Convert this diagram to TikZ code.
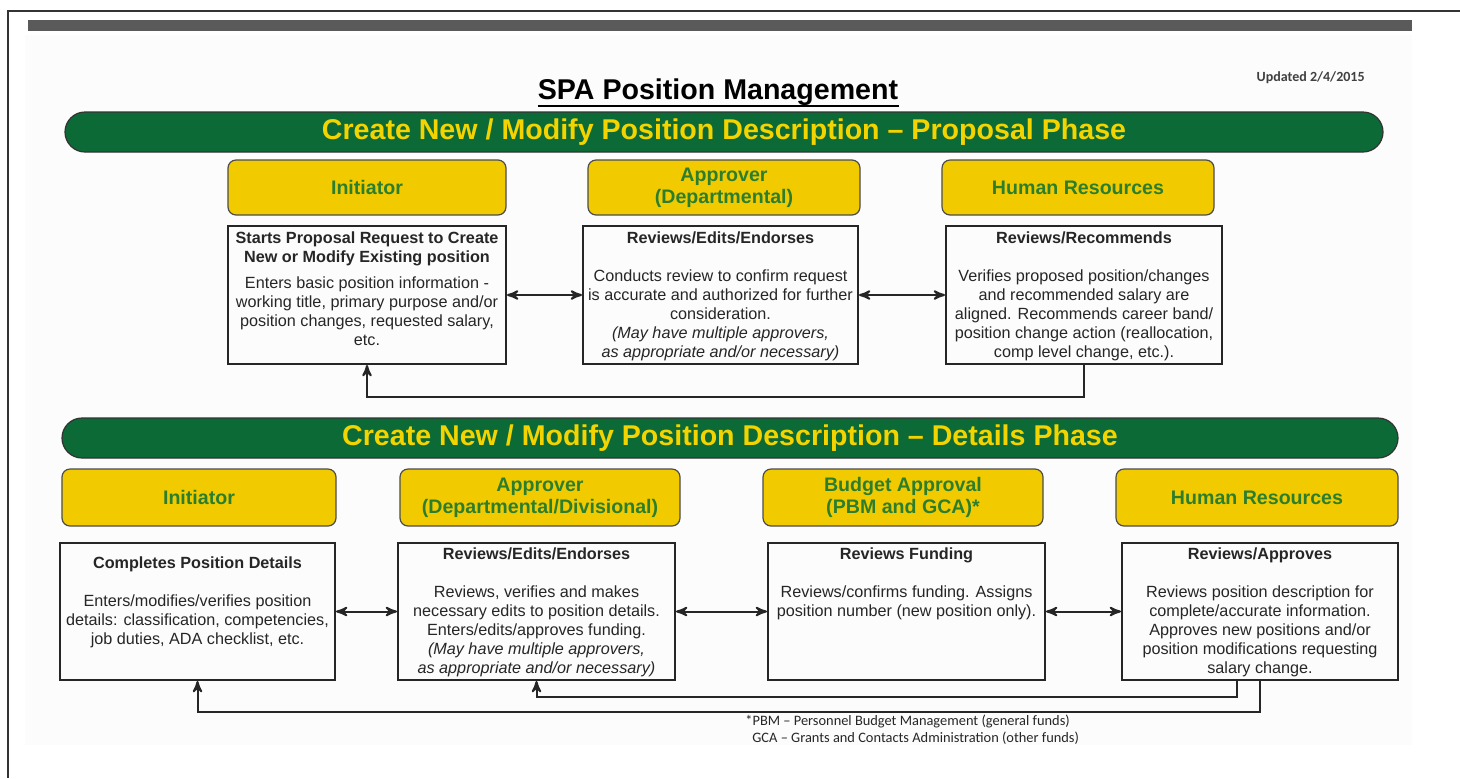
\documentclass[tikz,border=0pt]{standalone}
\usepackage{fontspec}
\setmainfont{Liberation Sans}
\newfontfamily\notefont{Carlito}
\usetikzlibrary{arrows, fit}

\definecolor{phasegreen}{HTML}{0B6A36}
\definecolor{phaseyellow}{HTML}{F3D400}
\definecolor{rolegold}{HTML}{F1CB00}
\definecolor{rolegreen}{HTML}{2C7E2C}
\definecolor{bargray}{HTML}{5A5A5A}

\tikzset{
  phase/.style={draw=black!80, line width=0.6pt, fill=phasegreen, rounded corners=10pt, inner sep=0pt},
  phasetext/.style={inner sep=0pt, text=phaseyellow, font=\fontsize{14.3}{16}\selectfont\bfseries},
  role/.style={draw=black!70, line width=0.6pt, fill=rolegold, rounded corners=4pt, inner sep=0pt},
  roletext/.style={inner sep=0pt, align=center, text=rolegreen, font=\fontsize{9.8}{11}\selectfont\bfseries},
  task/.style={draw=black!85, line width=1pt, inner sep=0pt},
  tasktext/.style={anchor=north, align=center, inner sep=0pt, text=black!85,
    font=\fontsize{8.1}{9.5}\selectfont},
  flow/.style={line width=1pt, draw=black!85, >=stealth'}
}

\begin{document}
\begin{tikzpicture}[x=0.5pt, y=-0.5pt]
\useasboundingbox (0,0) rectangle (1460,778);

% page frame and top bar
\fill[black!1] (25,35) rectangle (1412,745);
\draw[black!80, line width=0.75pt] (1460,11) -- (8,11) -- (8,778);
\fill[bargray] (28,20) rectangle (1412,31);

% title
\node[anchor=base, inner sep=0pt, font=\fontsize{14.3}{17}\selectfont\bfseries] (title) at (718,99) {SPA Position Management};
\draw[line width=1pt] ([yshift=-0.5pt]title.south west) -- ([yshift=-0.5pt]title.south east);
\node[anchor=east, inner sep=0pt, text=black!75, font=\notefont\fontsize{7}{8}\selectfont\bfseries] (upd) at (1365,78) {Updated 2/4/2015};

%% proposal phase
\node[phase, fit={(65,112) (1383,152)}] (pp) {};
\node[phasetext] (ppt) at (pp) {Create New / Modify Position Description – Proposal Phase};

\node[role, fit={(228,160) (506,215)}] (ph1) {};
\node[role, fit={(588,160) (860,215)}] (ph2) {};
\node[role, fit={(942,160) (1214,215)}] (ph3) {};
\node[roletext] (pr1) at (ph1) {Initiator};
\node[roletext] (pr2) at (ph2) {Approver\\(Departmental)};
\node[roletext] (pr3) at (ph3) {Human Resources};

\node[task, fit={(228,226) (506,364)}] (pb1) {};
\node[task, fit={(583,226) (858,364)}] (pb2) {};
\node[task, fit={(946,226) (1222,364)}] (pb3) {};

\node[tasktext] (pt1) at ([yshift=-3pt]pb1.north) {\textbf{Starts Proposal Request to Create}\\\textbf{New or Modify Existing position}\\[3.5pt]
  Enters basic position information -\\working title, primary purpose and/or\\position changes, requested salary,\\etc.};
\node[tasktext] (pt2) at ([yshift=-3pt]pb2.north) {\textbf{Reviews/Edits/Endorses}\\[9.5pt]
  Conducts review to confirm request\\is accurate and authorized for further\\consideration.\\
  \textit{(May have multiple approvers,}\\\textit{as appropriate and/or necessary)}};
\node[tasktext] (pt3) at ([yshift=-3pt]pb3.north) {\textbf{Reviews/Recommends}\\[9.5pt]
  Verifies proposed position/changes\\and recommended salary are\\aligned. Recommends career band/\\position change action (reallocation,\\comp level change, etc.).};

\draw[flow, <->] (pb1) -- (pb2);
\draw[flow, <->] (pb2) -- (pb3);
\coordinate (back1) at (1084,397);
\draw[flow, ->] (pb3.south) -- (back1) -| (pb1.south);

%% details phase
\node[phase, fit={(62,418) (1398,458)}] (dp) {};
\node[phasetext] (dpt) at (dp) {Create New / Modify Position Description – Details Phase};

\node[role, fit={(62,469) (336,526)}] (dh1) {};
\node[role, fit={(400,469) (680,526)}] (dh2) {};
\node[role, fit={(763,469) (1043,526)}] (dh3) {};
\node[role, fit={(1116,469) (1398,526)}] (dh4) {};
\node[roletext] (dr1) at (dh1) {Initiator};
\node[roletext] (dr2) at (dh2) {Approver\\(Departmental/Divisional)};
\node[roletext] (dr3) at (dh3) {Budget Approval\\(PBM and GCA)*};
\node[roletext] (dr4) at (dh4) {Human Resources};

\node[task, fit={(60,543) (335,680)}] (db1) {};
\node[task, fit={(398,543) (675,680)}] (db2) {};
\node[task, fit={(768,543) (1045,680)}] (db3) {};
\node[task, fit={(1122,543) (1398,680)}] (db4) {};

\node[tasktext] (dt1) at ([yshift=-7pt]db1.north) {\textbf{Completes Position Details}\\[9.5pt]
  Enters/modifies/verifies position\\details: classification, competencies,\\job duties, ADA checklist, etc.};
\node[tasktext] (dt2) at ([yshift=-2.5pt]db2.north) {\textbf{Reviews/Edits/Endorses}\\[9.5pt]
  Reviews, verifies and makes\\necessary edits to position details.\\Enters/edits/approves funding.\\
  \textit{(May have multiple approvers,}\\\textit{as appropriate and/or necessary)}};
\node[tasktext] (dt3) at ([yshift=-2.5pt]db3.north) {\textbf{Reviews Funding}\\[9.5pt]
  Reviews/confirms funding. Assigns\\position number (new position only).};
\node[tasktext] (dt4) at ([yshift=-2.5pt]db4.north) {\textbf{Reviews/Approves}\\[9.5pt]
  Reviews position description for\\complete/accurate information.\\Approves new positions and/or\\position modifications requesting\\salary change.};

\draw[flow, <->] (db1) -- (db2);
\draw[flow, <->] (db2) -- (db3);
\draw[flow, <->] (db3) -- (db4);
\coordinate (back2) at (1237,697);
\coordinate (back3) at (1260,712);
\draw[flow, ->] (db4.south -| back2) -- (back2) -| (db2.south);
\draw[flow, ->] (db4.south) -- (back3) -| (db1.south);

% footnote
\node[anchor=north west, align=left, inner sep=0pt, text=black!85, font=\notefont\fontsize{7.2}{8.5}\selectfont] (note) at (745,715)
  {*PBM – Personnel Budget Management (general funds)\\\hspace{3.5pt}GCA – Grants and Contacts Administration (other funds)};
\end{tikzpicture}
\end{document}
